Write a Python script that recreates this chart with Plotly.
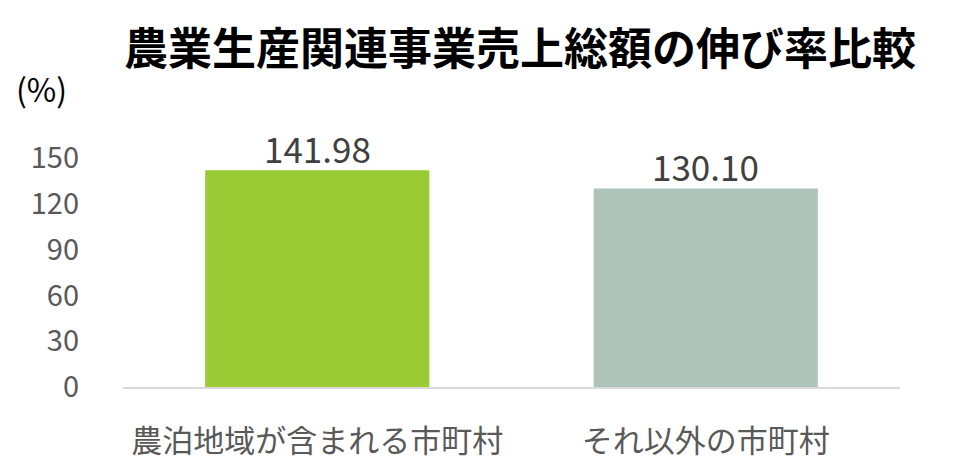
import plotly.graph_objects as go

title = "農業生産関連事業売上総額の伸び率比較"
categories = ["農泊地域が含まれる市町村", "それ以外の市町村"]
values = [141.98, 130.10]
labels = ["141.98", "130.10"]
colors = ["#9ACB34", "#AEC4B8"]
y_ticks = [0, 30, 60, 90, 120, 150]

font_family = "Noto Sans CJK JP"

# page offset of 8px (body margin) taken into account
L, R, T, B = 115, 68, 150, 97
PW = 960 - L - R
PH = 476 - T - B

fig = go.Figure(
    go.Bar(
        x=categories,
        y=values,
        marker=dict(color=colors, line=dict(width=0)),
        cliponaxis=False,
        width=0.577,
    )
)

annotations = [
    dict(
        text=lab,
        x=cat,
        y=val,
        xref="x",
        yref="y",
        xanchor="center",
        yanchor="bottom",
        yshift=-5,
        showarrow=False,
        font=dict(size=35, color="#404040", family=font_family),
    )
    for cat, val, lab in zip(categories, values, labels)
]
annotations.append(
    dict(
        text="(%)",
        xref="paper",
        yref="paper",
        x=(6 - L) / PW,
        xanchor="left",
        y=1 + (T - 80) / PH,
        yanchor="middle",
        showarrow=False,
        font=dict(size=32, color="#000000", family=font_family),
    )
)

fig.update_layout(
    width=960,
    height=476,
    paper_bgcolor="white",
    plot_bgcolor="white",
    margin=dict(l=L, r=R, t=T, b=B, autoexpand=False),
    showlegend=False,
    font=dict(family=font_family),
    title=dict(
        text="<b>" + title + "</b>",
        x=512 / 960,
        xanchor="center",
        y=1 - 42 / 476,
        yanchor="middle",
        font=dict(size=44, color="#000000", family=font_family),
    ),
    annotations=annotations,
)

fig.update_yaxes(
    range=[0, 150],
    tickvals=y_ticks,
    ticktext=[str(v) for v in y_ticks],
    showgrid=False,
    zeroline=False,
    showline=False,
    ticks="",
    ticklabelstandoff=43,
    tickfont=dict(size=29, color="#595959", family=font_family),
)

fig.update_xaxes(
    showgrid=False,
    showline=True,
    linecolor="#D9D9D9",
    linewidth=1.5,
    ticks="",
    ticklabelstandoff=26,
    tickfont=dict(size=31, color="#595959", family=font_family),
)

fig.write_html("out.html")
